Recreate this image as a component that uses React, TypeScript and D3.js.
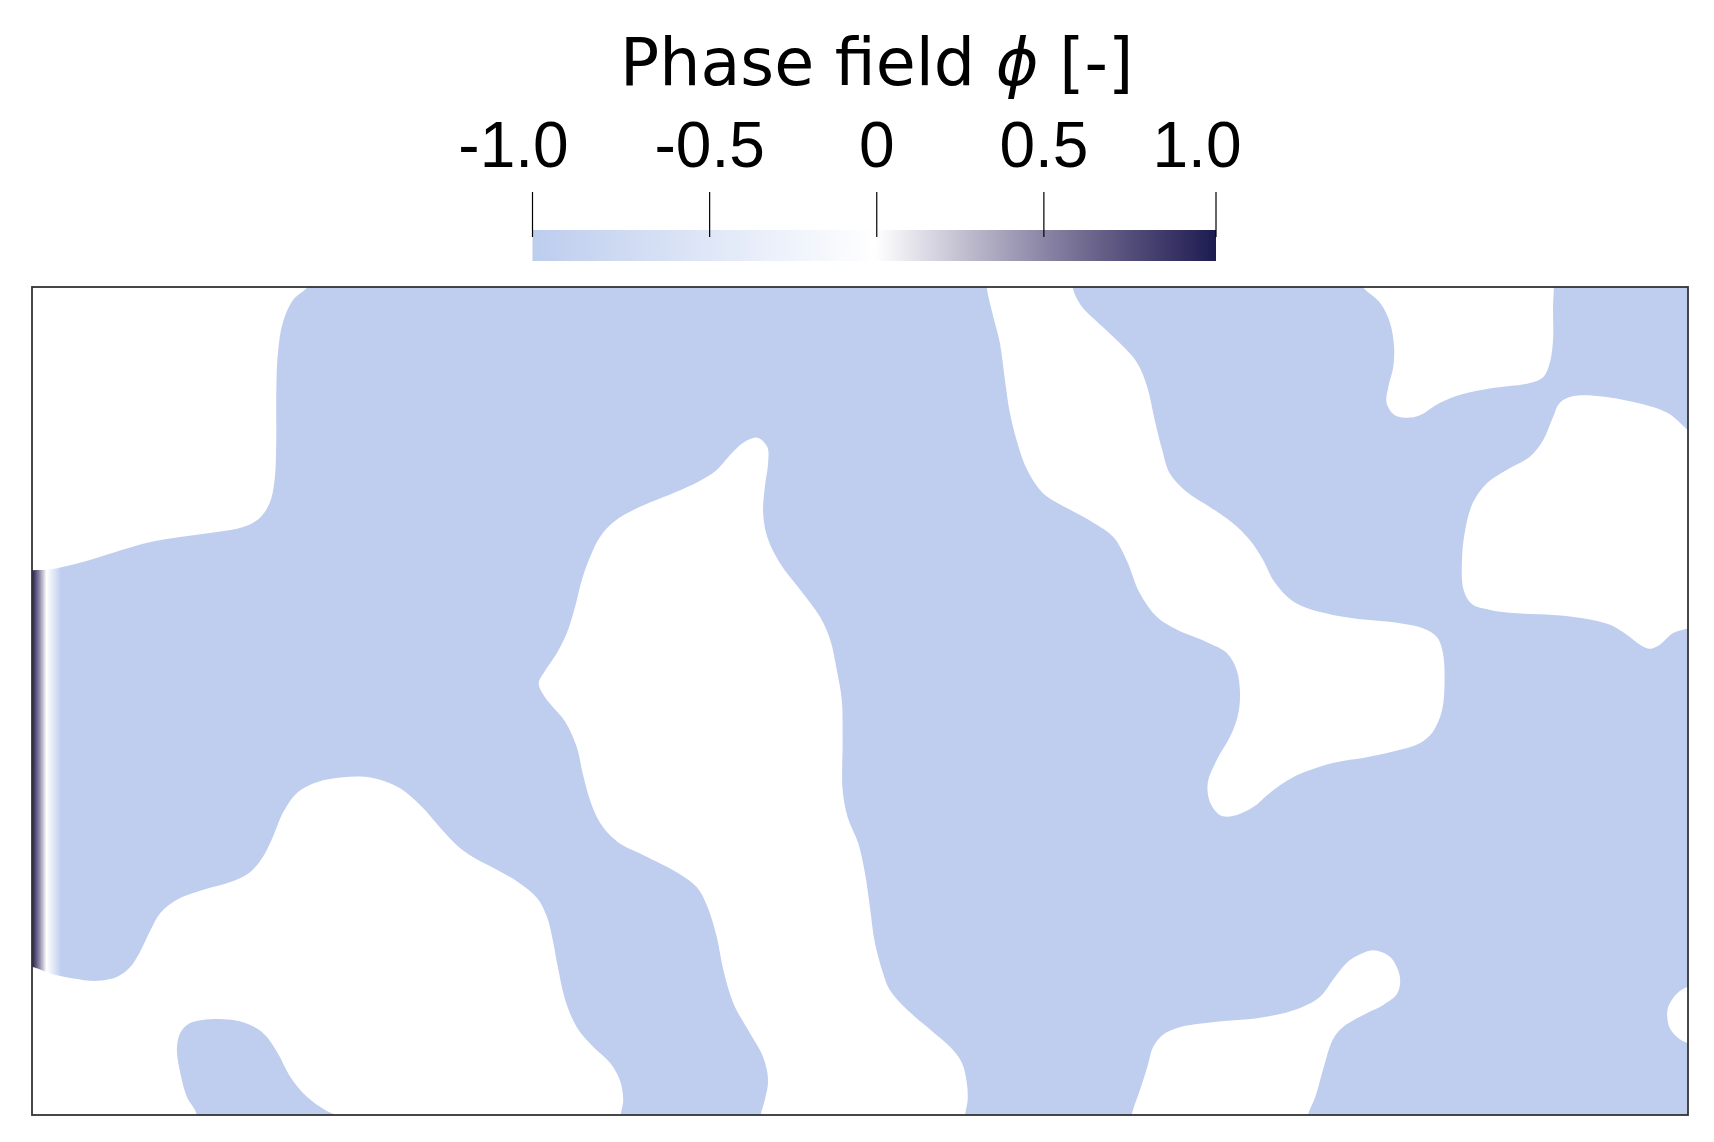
import { useMemo } from "react";
import * as d3 from "d3";

type Pt = [number, number];

// domain: lattice units, box is 200 x 100, y up
const boxW = 200;
const boxH = 100;

// colour map for phi (range shown by the bar)
const cmapRange = [-1.03, 1.015];
const cmapValues = [-1.03, 0, 1.015];
const cmapColors = ["#bdcdee", "#ffffff", "#1c1c50"];
const phiMatrix = -1; // value of the blue phase
const tickValues = [-0.5, 0, 0.5];
const tickLabels = ["-0.5", "0", "0.5"];
const endLabels = [
  { v: -1.03, text: "-1.0" },
  { v: 1.015, text: "1.0" },
];

// wall layer on the left: phi goes from +1 to -1 across this width
const wallPhi = [1, -1];
const wallWidth = 3.5;

// outlines of the white (phi ~ 0) regions
const regionA: Pt[] = [
  [33.3, 100], [31.5, 98.4], [30.3, 95.7], [29.7, 92.0], [29.5, 86.7], [29.5, 81.5], [29.3, 76.7],
  [28.7, 73.9], [27.5, 72.1], [25.5, 71.0], [22.3, 70.4], [17.9, 69.8], [13.9, 69.1], [9.8, 67.9],
  [5.8, 66.7], [2.2, 65.9], [0, 65.8], [-4, 65.8], [-4, 104], [36, 103.5],
];
const regionB: Pt[] = [
  [87.6, 81.8], [85.9, 81.2], [84.3, 79.7], [82.7, 77.9], [80.3, 76.4], [76.2, 74.6], [73.1, 73.3],
  [70.2, 71.6], [68.6, 69.8], [67.4, 67.4], [66.4, 64.6], [65.6, 61.4], [64.6, 58.2], [63.4, 55.8],
  [62.0, 53.7], [61.2, 52.1], [62.0, 50.4], [62.8, 49.4], [64.4, 47.5], [65.8, 44.4], [66.5, 41.3],
  [67.4, 38.0], [68.6, 35.3], [70.7, 33.0], [73.8, 31.4], [77.9, 29.3], [80.3, 27.5], [81.6, 25.1],
  [82.7, 21.5], [83.5, 17.5], [84.7, 13.5], [86.7, 9.9], [88.3, 7.0], [88.9, 4.2], [88.5, 1.8],
  [88.0, 0], [87.5, -4], [112.5, -4], [112.7, 0], [113.0, 1.8], [112.9, 3.9], [112.3, 6.3],
  [110.9, 8.2], [108.5, 10.3], [105.7, 12.7], [103.6, 15.1], [102.8, 17.1], [101.8, 20.8],
  [101.2, 25.1], [100.6, 29.2], [99.8, 32.8], [98.5, 36.0], [97.9, 39.3], [97.9, 45.3], [97.8, 50.1],
  [97.2, 53.7], [96.4, 57.4], [95.2, 60.1], [92.8, 63.4], [90.3, 66.7], [88.8, 69.8], [88.3, 72.7],
  [88.5, 75.8], [88.9, 78.7], [88.8, 80.7],
];
const regionC: Pt[] = [
  [0, 17.9], [2.2, 17.1], [5.0, 16.5], [7.9, 16.2], [10.3, 16.7], [11.8, 17.8], [13.0, 19.6],
  [14.3, 22.3], [15.5, 24.4], [17.5, 26.0], [20.7, 27.2], [23.9, 28.1], [26.3, 29.3], [27.9, 31.2],
  [29.1, 33.6], [30.3, 36.5], [32.0, 38.9], [34.4, 40.2], [37.6, 40.8], [41.2, 40.7], [44.4, 39.5],
  [46.9, 37.4], [49.3, 34.7], [51.4, 32.5], [53.5, 31.0], [56.2, 29.6], [58.9, 28.0], [61.0, 26.2],
  [62.2, 23.9], [62.9, 21.1], [63.5, 17.9], [64.4, 13.9], [65.8, 10.6], [67.8, 8.2], [69.8, 6.3],
  [71.0, 4.2], [71.4, 1.8], [71.1, 0], [70.8, -4], [-4, -4], [-4, 18.5],
];
const regionE: Pt[] = [
  [115.3, 100], [116.1, 96.4], [116.9, 93.2], [117.5, 88.8], [118.1, 84.8], [119.0, 81.2],
  [120.2, 77.9], [122.1, 75.1], [125.0, 73.3], [128.1, 71.6], [130.6, 69.8], [132.2, 67.0],
  [133.8, 63.0], [135.9, 60.1], [138.3, 58.6], [141.9, 57.1], [144.3, 55.8], [145.5, 53.7],
  [145.9, 50.7], [145.6, 48.1], [144.7, 45.7], [143.1, 42.9], [142.0, 40.1], [142.3, 37.7],
  [143.5, 36.2], [145.0, 36.1], [147.5, 37.2], [149.5, 38.9], [152.3, 40.8], [157.1, 42.5],
  [161.2, 43.2], [165.2, 44.1], [167.6, 44.9], [169.2, 46.3], [170.3, 48.9], [170.6, 52.5],
  [170.4, 55.8], [169.7, 57.7], [168.0, 58.8], [165.2, 59.4], [161.2, 59.8], [157.1, 60.4],
  [153.5, 61.4], [151.6, 62.6], [149.9, 64.6], [148.7, 67.0], [147.1, 69.4], [145.0, 71.5],
  [142.3, 73.4], [139.5, 75.2], [137.4, 77.5], [136.5, 80.3], [135.6, 83.9], [134.7, 87.9],
  [133.5, 90.8], [131.8, 92.8], [129.3, 95.2], [126.9, 97.5], [126.0, 99.0], [125.7, 100],
  [125.6, 104], [115.1, 104],
];
const regionF: Pt[] = [
  [160.7, 100], [162.8, 98.1], [164.0, 95.7], [164.5, 92.8], [164.4, 90.3], [163.8, 87.9],
  [163.6, 86.0], [164.6, 84.5], [166.1, 84.2], [167.6, 84.5], [170.0, 86.0], [172.5, 87.0],
  [176.4, 87.8], [180.9, 88.4], [182.5, 89.1], [183.3, 90.8], [183.7, 93.6], [183.7, 97.6],
  [183.8, 100], [183.8, 104], [158, 104],
];
const regionG: Pt[] = [
  [200, 82.7], [197.5, 84.8], [193.4, 86.1], [189.4, 86.8], [186.1, 86.8], [184.5, 86.0],
  [183.7, 84.3], [182.5, 81.5], [180.9, 79.5], [178.1, 77.9], [175.7, 76.3], [174.0, 73.9],
  [173.1, 70.7], [172.7, 67.0], [172.9, 63.4], [173.9, 61.7], [176.1, 61.0], [179.3, 60.6],
  [183.7, 60.4], [187.3, 60.0], [190.6, 59.2], [192.6, 58.0], [194.2, 56.8], [195.4, 56.3],
  [196.6, 56.8], [198.2, 58.2], [200, 58.8], [203, 59.7], [205, 62], [205, 78], [203, 80.2],
];
const regionH: Pt[] = [
  [132.8, 0], [133.8, 3.0], [134.7, 5.8], [135.4, 8.2], [136.6, 9.7], [138.6, 10.6], [142.6, 11.2],
  [148.7, 11.8], [153.1, 12.9], [155.6, 14.3], [157.1, 16.3], [158.8, 18.4], [160.4, 19.4],
  [162.0, 19.9], [164.0, 19.1], [165.2, 16.7], [164.9, 14.7], [163.2, 13.3], [161.2, 12.3],
  [158.3, 10.6], [157.1, 9.1], [155.9, 5.4], [155.0, 2.2], [154.1, 0], [153.6, -4], [132.2, -4],
];
const regionI: Pt[] = [
  [200, 15.5], [198.7, 14.7], [197.6, 13.0], [197.5, 11.8], [197.8, 10.5], [198.8, 9.3],
  [200, 8.7], [203, 8.5], [203, 15.8],
];
// blue lobe sitting inside region C on the bottom wall
const lobeD: Pt[] = [
  [19.4, -4], [19.9, 0], [18.7, 2.2], [17.9, 5.1], [17.5, 7.9], [17.9, 9.9], [19.1, 11.1],
  [22.3, 11.6], [25.5, 11.2], [27.9, 9.9], [29.6, 7.6], [31.2, 4.6], [33.2, 2.2], [35.4, 0.6],
  [36.6, 0], [39.5, -2], [39.5, -5], [19, -5],
];

const whiteRegions = [regionA, regionB, regionC, regionE, regionF, regionG, regionH, regionI];

export default function App() {
  const W = 1714, H = 1142;
  const x = d3.scaleLinear().domain([0, boxW]).range([32, 1688]);
  const y = d3.scaleLinear().domain([0, boxH]).range([1115, 287]);
  const cb = d3.scaleLinear().domain(cmapRange).range([532.5, 1216]);
  const colour = d3
    .scaleLinear<string>()
    .domain(cmapValues)
    .range(cmapColors)
    .interpolate(d3.interpolateLab)
    .clamp(true);

  const outline = d3
    .line<Pt>()
    .x((d) => x(d[0]))
    .y((d) => y(d[1]))
    .curve(d3.curveCatmullRomClosed.alpha(0.5));

  const barStops = useMemo(
    () => d3.range(0, 41).map((i) => {
      const t = i / 40;
      return { t, c: colour(cmapRange[0] + t * (cmapRange[1] - cmapRange[0])) };
    }),
    []
  );
  const wallStops = useMemo(
    () => d3.range(0, 21).map((i) => {
      const t = i / 20;
      return { t, c: colour(wallPhi[0] + t * (wallPhi[1] - wallPhi[0])) };
    }),
    []
  );

  const barTop = 230, barBot = 261;
  const blue = colour(phiMatrix);

  return (
    <div style={{ position: "absolute", left: 0, top: 0 }}>
      <svg width={W} height={H} style={{ display: "block", background: "#fff" }}>
        <defs>
          <clipPath id="box">
            <rect x={x(0)} y={y(boxH)} width={x(boxW) - x(0)} height={y(0) - y(boxH)} />
          </clipPath>
          <linearGradient id="bar" x1="0" x2="1" y1="0" y2="0">
            {barStops.map((s) => (
              <stop key={s.t} offset={s.t} stopColor={s.c} />
            ))}
          </linearGradient>
          <linearGradient id="wall" x1="0" x2="1" y1="0" y2="0">
            {wallStops.map((s) => (
              <stop key={s.t} offset={s.t} stopColor={s.c} />
            ))}
          </linearGradient>
        </defs>

        {/* title */}
        <text
          x={cb(0)}
          y={85}
          textAnchor="middle"
          fontFamily="DejaVu Sans"
          fontSize={65}
          fill="#000"
        >
          Phase field <tspan fontStyle="italic">ϕ</tspan> [-]
        </text>

        {/* colour bar */}
        <rect x={cb(cmapRange[0])} y={barTop} width={cb(cmapRange[1]) - cb(cmapRange[0])} height={barBot - barTop} fill="url(#bar)" />
        {[cmapRange[0], ...tickValues, cmapRange[1]].map((v) => (
          <line key={v} x1={cb(v)} x2={cb(v)} y1={192} y2={237} stroke="#000" strokeWidth={1.2} />
        ))}
        {tickValues.map((v, i) => (
          <text key={v} x={cb(v)} y={167} textAnchor="middle" fontFamily="Liberation Sans" fontSize={64} fill="#000">
            {tickLabels[i]}
          </text>
        ))}
        {endLabels.map((l) => (
          <text key={l.text} x={cb(l.v) - 19} y={167} textAnchor="middle" fontFamily="Liberation Sans" fontSize={64} fill="#000">
            {l.text}
          </text>
        ))}

        {/* field */}
        <g clipPath="url(#box)">
          <rect x={x(0)} y={y(boxH)} width={x(boxW) - x(0)} height={y(0) - y(boxH)} fill={blue} />
          <rect x={x(0)} y={y(boxH)} width={x(wallWidth) - x(0)} height={y(0) - y(boxH)} fill="url(#wall)" />
          {whiteRegions.map((r, i) => (
            <path key={i} d={outline(r) ?? ""} fill={colour(0)} />
          ))}
          <path d={outline(lobeD) ?? ""} fill={blue} />
        </g>
        <rect
          x={x(0)}
          y={y(boxH)}
          width={x(boxW) - x(0)}
          height={y(0) - y(boxH)}
          fill="none"
          stroke="#333"
          strokeWidth={1.8}
        />
      </svg>
    </div>
  );
}
